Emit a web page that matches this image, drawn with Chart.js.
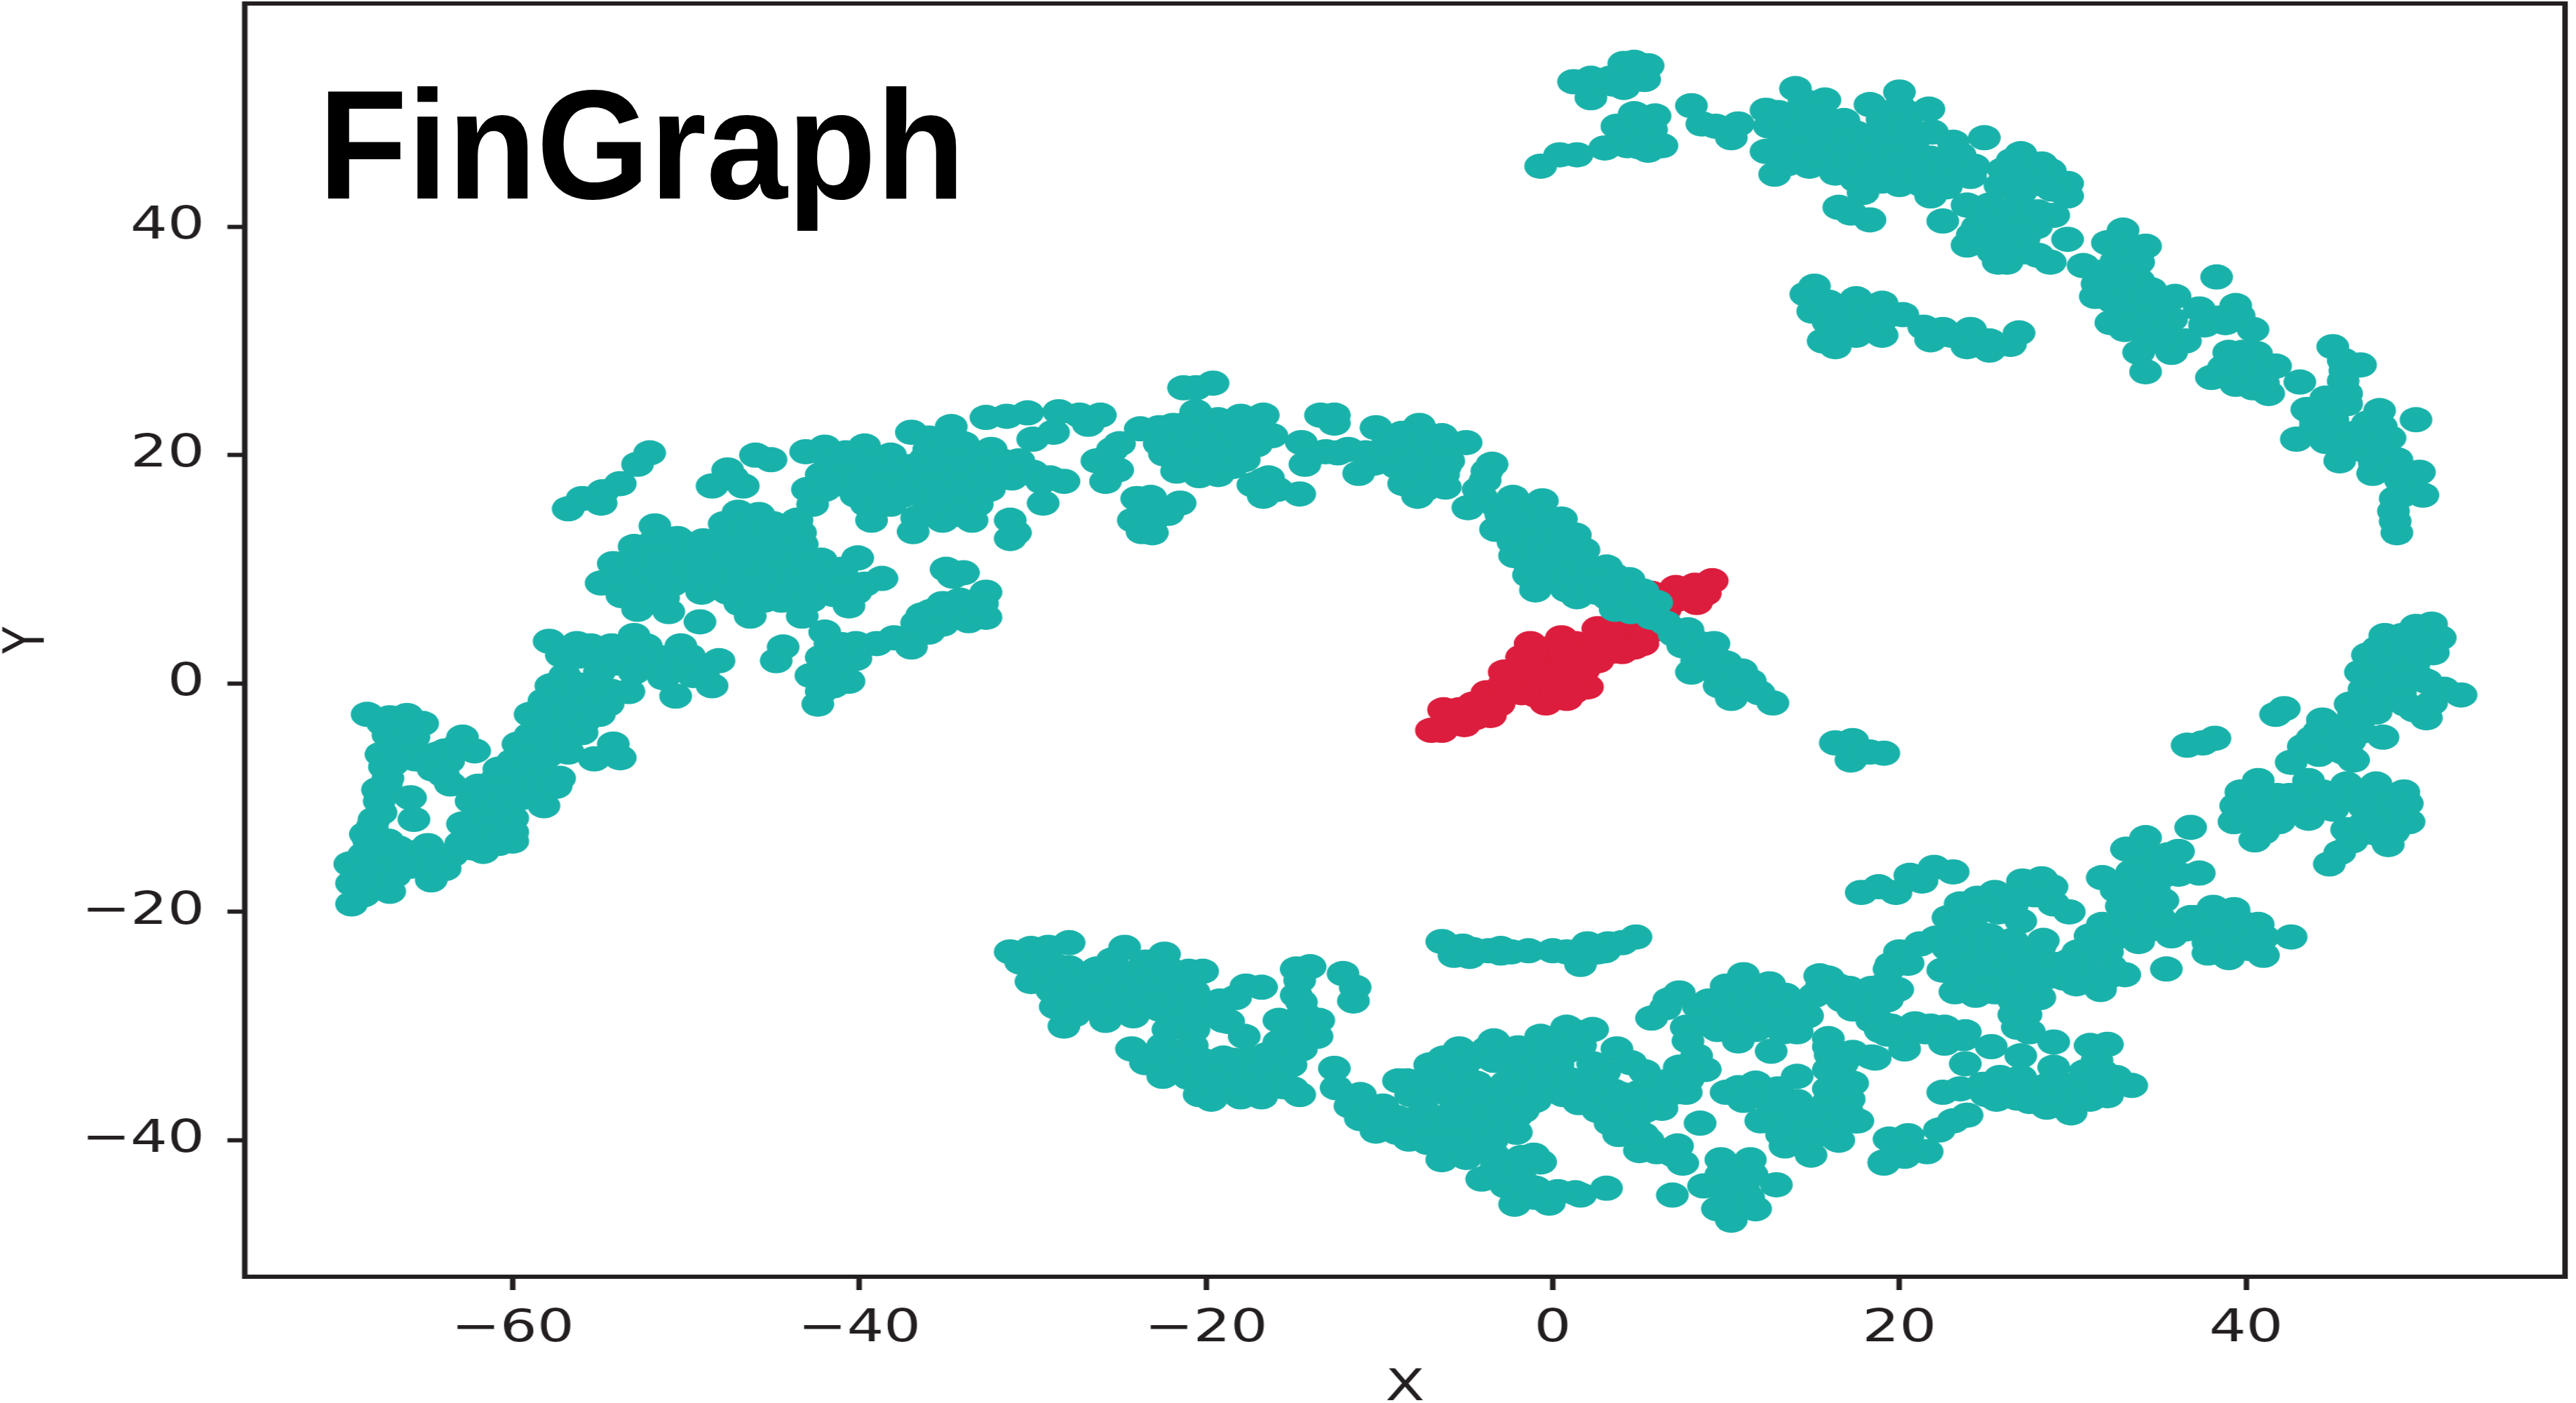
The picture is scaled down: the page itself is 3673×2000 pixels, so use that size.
<!DOCTYPE html>
<html lang="en">
<head>
  <meta charset="UTF-8" />
  <title>FinGraph</title>
  <script src="https://cdn.jsdelivr.net/npm/chart.js"></script>
  <style>
    html,body{margin:0;background:#fff;overflow:hidden}
    #wrap{position:absolute;left:0;top:0;width:2826px;height:2000px;transform:scale(1.2997,1);transform-origin:0 0}
    #mark{position:absolute;left:454px;top:97px;font:bold 220px/1 "Liberation Sans",Arial,sans-serif;color:#000;transform:scaleX(.943);transform-origin:0 0;white-space:nowrap}
  </style>
</head>
<body>
  <div id="wrap"><canvas id="tsne" width="2826" height="2000"></canvas></div>
  <div id="mark">FinGraph</div>

  <script>
  const xTicks=[-60,-40,-20,0,20,40];
  const yTicks=[-40,-20,0,20,40];

  // values, cluster by cluster
  const redCluster=[[9.2,9],[8.2,8.6],[7.1,8.4],[8.8,7.9],[8.3,7.1],[7.2,7.4],[5.7,7.9],[6.5,6.5],[5.6,4.6],[2.6,4.8],[4.2,4.6],[4.7,3.2],[4,2.8],[0.5,4],[-1.3,3.5],[1.3,3.5],[2.6,2],[1.8,2.6],[-1.8,2.3],[-2.8,1],[-0.5,2],[0.8,1.5],[2,-0.3],[0.8,-1.3],[-0.4,-1.7],[-0.5,0.2],[-1.8,-0.8],[-3.8,-0.8],[-3.1,-1.8],[-3.6,-2.8],[-4.6,-1.8],[-6.3,-2.3],[-5.1,-3.6],[-6.4,-4.1],[-7,-4.1],[-5.6,-3],[-1.8,0.7],[0,0.5],[1.3,0.2],[3.4,3.5],[5.2,3.5],[5.2,5],[3.4,4.5],[-0.5,3],[0.6,2.8],[2.6,3.5],[1.8,1.2],[-1,1.2],[-2.6,-0.5],[-1,-1],[0.2,-0.8],[1.2,-0.7],[-4.5,-3],[-5.4,-2.3],[-2.8,0],[3.3,2.8],[6.6,7.5],[5,6]];

  const leftTail=[[-68.4,-2.7],[-67.1,-3],[-66.1,-2.8],[-65.2,-3.5],[-67.2,-4.5],[-65.7,-4.7],[-66.5,-3.8],[-67.6,-6.2],[-66.4,-6.5],[-67.4,-7.3],[-67.2,-8.3],[-67.8,-9.3],[-67.6,-11.3],[-68.1,-12.5],[-68.3,-13.8],[-68.6,-15],[-69.4,-15.8],[-69.3,-17.5],[-69.3,-19.3],[-68.6,-18.5],[-67.1,-18.2],[-67.9,-16.7],[-67.2,-13.8],[-67.2,-15.7],[-65.9,-16],[-64.7,-17.2],[-63.9,-16.2],[-64.9,-14.2],[-65.9,-10],[-65.7,-11.9],[-64.4,-6.2],[-64.6,-7.5],[-63.6,-8.8],[-63.7,-6.8],[-62.9,-4.7],[-62.2,-5.9],[-66.5,-15],[-63.5,-15]];
  const leftTailFill=[[-68.2,-17],[-68,-15.8],[-66.8,-16.8],[-65.6,-14.8],[-64.6,-15.5],[-66.6,-14.4],[-67.8,-14.5],[-68.3,-16.2],[-66.7,-3.9],[-66.3,-5.5],[-67,-5.4],[-65.7,-3.8],[-67.5,-3.5],[-66.9,-7],[-65.6,-6.6],[-67.7,-10.3],[-67.3,-8.9],[-68,-11.9],[-68.5,-13.2],[-63.9,-5.9],[-64.9,-6.8],[-64,-8],[-63.2,-5.5]];
  const leftBand=[[-62.4,-10.3],[-62.9,-12.3],[-63,-14],[-61.7,-14.7],[-62.3,-14.4],[-60,-13.8],[-60,-11.8],[-61.4,-12.3],[-61.4,-10.7],[-60.9,-8.3],[-59.4,-8.3],[-57.3,-8.3],[-58.2,-10.7],[-58.7,-9.3],[-60,-9.8],[-61,-13.5],[-59.5,-6.5],[-59.7,-5.3],[-58,-6.3],[-57,-5.3],[-58.5,-5],[-56,-4.3],[-59,-2.7],[-57.3,-3],[-55,-2.7],[-56,-2],[-57.8,-0.2],[-57,0.7],[-56.7,-1],[-55.7,-0.7],[-54.3,-0.7],[-53.3,-0.7],[-55,1],[-54.2,-5.3],[-55.3,-6.6],[-53.8,-6.5],[-57.5,-4.2],[-59.5,-7.2],[-58.5,-8]];
  const leftBandFill=[[-62,-11.5],[-61,-11.5],[-60.5,-12.8],[-61.8,-13],[-62.6,-13.2],[-60.8,-14],[-60,-13],[-61.8,-9.5],[-60.5,-10.8],[-59.5,-10],[-60.5,-9],[-59.5,-7.5],[-58.7,-7],[-60,-6.8],[-59,-4.5],[-58.2,-4],[-57.2,-4.2],[-58,-3],[-56.5,-3.5],[-55.8,-3.2],[-57.8,-5.5],[-56.8,-2],[-58.2,-1.5],[-55,-1.7],[-56.3,-0.1],[-54.5,-1.8],[-56.8,-6],[-60.8,-7.5],[-62,-9],[-57.5,-9]];
  const leftRidge=[[-57.9,3.7],[-57.2,2.5],[-56.3,3.5],[-54.3,3.3],[-53,4.2],[-52.3,3.3],[-53.7,2.3],[-52.7,1.7],[-51.3,0.5],[-50.6,-1.1],[-50.3,3.3],[-50.1,1.9],[-49.6,0.7],[-48.5,-0.2],[-48.1,2],[-49,1.3],[-51.6,2.3],[-55.4,2.8],[-42,4.5],[-40.2,3.5],[-40.9,2.3],[-40.2,2.2],[-42.2,2.3],[-42.8,0.7],[-41.9,0.7],[-40.6,0.2],[-42.2,-0.7],[-42.4,-1.8],[-39,3.5],[-38,4],[-37,3.2],[-36.7,5.3],[-35.2,5.2],[-35.9,6.3],[-35.2,7],[-34.2,7.3],[-33.7,5.5],[-32.7,5.8],[-32.7,8],[-32.9,7],[-33.9,6.3],[-44.4,3.2],[-44.8,2],[-35,10],[-34,9.7],[-34.6,9.4]];
  const leftRidgeFill=[[-57,3],[-55.5,3.3],[-54.6,2.5],[-53.5,3.2],[-52,2.2],[-51.5,1.3],[-52.5,2.8],[-50.5,2.5],[-49.8,2.4],[-49,0.8],[-56.2,2.4],[-54,1.8],[-53,1],[-41,3.4],[-41.3,1.5],[-41.7,3.5],[-41.5,-0.2],[-41.2,2.8],[-36,4.5],[-36.4,6],[-34.8,6],[-34,6.3],[-33,6.7],[-35,6.5]];
  const leftBlob=[[-54.9,8.8],[-54.2,10.5],[-53,12],[-51.8,13.8],[-50.5,12.7],[-53.7,7.7],[-52.8,6.5],[-51,6.3],[-52.3,10.3],[-51,11.7],[-52.3,8.3],[-50.8,8.7],[-50.3,10.7],[-49.1,8],[-49.2,5.4],[-48.3,10.3],[-48.5,12.3],[-47,11.3],[-47.8,14],[-47,15],[-45.8,14.8],[-46.6,13.6],[-45.3,13],[-43.4,13.2],[-43.6,14.3],[-46.3,10.3],[-44.6,11],[-43.3,11.3],[-46.9,8],[-46.9,7],[-46.3,5.9],[-45,8.3],[-44.3,9.3],[-43.3,5.9],[-43.2,8.2],[-42.2,10.8],[-42.2,8],[-40.6,6.8],[-40.1,11],[-40.9,8.7],[-38.7,9.2],[-39.7,8.7],[-53,9.5],[-49.5,9.5],[-47.5,9],[-41.5,9]];
  const leftBlobFill=[[-53.6,9.3],[-52.7,11],[-51.8,12.5],[-51.5,11],[-51.6,9.5],[-51.8,7.5],[-53,8],[-51.3,7.5],[-50,11.5],[-49.2,11],[-49,12.5],[-47.8,12.5],[-46.8,12.5],[-45.5,12],[-44.2,12.5],[-43.3,12.2],[-44,13.8],[-45,14],[-48,10],[-49,9.5],[-47.5,10.5],[-46,11.5],[-45.2,10],[-44.5,9.5],[-43.5,10],[-42.8,9.5],[-47.9,8.5],[-46.5,9],[-45.5,9],[-44.2,8],[-41.8,9.5],[-41,10],[-41.5,7.8],[-40.2,8],[-42.8,7.3],[-46,7.8],[-45.5,7.3],[-44.5,7.3],[-48.5,9],[-47.6,8]];
  const leftUpper=[[-42.7,15.7],[-43,17],[-42.2,18.3],[-43.1,20.3],[-42,20.7],[-39.7,20.8],[-40.9,19],[-41.2,17.5],[-38.2,20],[-39.2,18.3],[-39.6,15.7],[-39.3,14.3],[-38.2,15.7],[-37.5,17.7],[-46,20],[-45.1,19.6],[-47.6,18.7],[-48.5,17.3],[-46.7,17.3],[-47.3,18],[-52.1,20.2],[-52.8,19.2],[-53.8,17.5],[-54.8,16.8],[-54.9,15.8],[-56,16.2],[-56.8,15.3],[-40.5,20],[-38.5,17.5],[-40.2,16.5],[-42,17],[-41.3,18.5],[-41.8,19.8],[-40.8,20.2],[-39.5,19.5],[-38.8,19.3],[-40,18],[-38.8,17],[-38,19],[-37,19],[-36.5,18.5],[-36,20.5],[-36.5,17.5],[-37.5,16.5]];
  const leftCrest=[[-34.7,22.5],[-37,22],[-35.5,20.7],[-36.2,19.7],[-34.4,20],[-32.4,20.5],[-32.9,19],[-30.8,19.5],[-34.2,17.7],[-35.5,18],[-32.5,17],[-31.2,18],[-33.2,15.7],[-33.5,14.3],[-35.5,15],[-35.2,14.3],[-36.9,13.3],[-36.7,14.5],[-34.5,16],[-29.4,15.8],[-29.5,17.7],[-28.2,17.7],[-31.3,14.3],[-31.3,12.7],[-31,13.2],[-32.7,23.3],[-31.5,23.4],[-30.3,23.7],[-28.5,23.8],[-27.3,23.5],[-26.1,23.5],[-26.8,22.7],[-28.8,22],[-30,21.4],[-23.8,22.3],[-25.8,19.7],[-26.3,19.5],[-25.8,17.7],[-25.1,18.7],[-24,16.2],[-24.2,14.3],[-23.7,13.3],[-25,21],[-36,17],[-33.5,18.5],[-36,21.5],[-35,21.5],[-34,21],[-33.2,20],[-33.5,19],[-34.5,19],[-35.5,19.5],[-32,19],[-33.5,17.5],[-34.8,17],[-36,15.8],[-35.5,16.5],[-33.8,15.5],[-34.2,14.8],[-32.8,18],[-31.8,19.5],[-30,18.5],[-29,18],[-25.4,20.5],[-21.5,15.8],[-22.7,15.2],[-23.2,16.3],[-23.2,14],[-23.1,13.2],[-22.2,14.9]];

  const archBlob=[[-19.6,26.3],[-21.3,25.9],[-20.6,25.9],[-20.6,23.8],[-16.7,23.5],[-18,23.4],[-19.3,23.1],[-21.9,22.6],[-22.7,22.4],[-16.2,21.7],[-21.9,21],[-20.6,21.9],[-19.3,21.6],[-18,21.9],[-17.1,20.9],[-20.6,20.3],[-19.1,20.3],[-22.4,20.1],[-21.7,18.6],[-20.4,18.2],[-19.3,18.3],[-17.8,19.6],[-21.4,19.5],[-22.7,21],[-18.5,19],[-16.4,18],[-17.3,17.4],[-16.7,16.4],[-15.9,17],[-14.6,16.6],[-13.4,23.5],[-12.6,22.8],[-12.6,23.5],[-14.5,21.1],[-14.3,19.2],[-13.1,20.3],[-11.8,20.5],[-13.9,20.1],[-11.2,18.4],[-10.2,22.4],[-10,20.3],[-7.7,22.6],[-8.7,21.9],[-6.4,21.7],[-5,21.1],[-7.7,20.9],[-9,20.1],[-6.7,20.1],[-7.7,19.1],[-6.3,18.3],[-6.2,17.2],[-8.6,17.5],[-7.8,16.4],[-7.2,17.8],[-10.3,19.3]];
  const archFill=[[-21,22.8],[-19.8,22.6],[-18.6,22.5],[-17.4,22.6],[-21.2,21.2],[-20,21],[-18.6,21],[-17.4,20.8],[-22,20],[-21,20],[-19.9,19.5],[-18.8,20],[-17.8,20.5],[-21,19],[-19.5,19.2],[-17,21.7],[-20,18.8],[-16.3,17.2],[-16.7,17.8],[-8.7,20.5],[-8,21.5],[-7,21.2],[-6,20.9],[-8.3,19.5],[-7,19.3],[-6,19.5],[-9,19],[-6.8,18.3],[-8,18],[-7.4,17],[-8.2,19],[-12.4,20.2],[-10.8,20.2],[-9.6,20.8],[-9.2,21.5],[-6.2,19]];
  const centerTail=[[-3.5,19.2],[-3.9,17.8],[-4.9,15.4],[-4.1,16.3],[-2.3,16.3],[-0.6,16],[-2.8,13.7],[-1.3,14.7],[0.5,14.4],[1.3,13],[1.8,11.7],[-2.2,11.2],[-2.3,12.4],[-0.5,13.2],[-0.5,11.7],[-1.3,10.2],[-0.2,10],[0.8,11.2],[-1,8.2],[0.8,8.2],[1.4,7.6],[3.1,10.2],[4.4,9.1],[2.6,9.1],[3.6,8.6],[5.2,8.1],[6,7.1],[3.6,6.5],[4.5,6.3],[4.2,7.4],[6.5,5.3],[7.8,4.7],[7.5,3.3],[9.3,3.5],[8.7,2.8],[8,1],[8.3,2],[10,1.8],[10.9,1.1],[11.4,0.2],[10.1,0.2],[10.3,-1.3],[12.7,-1.7],[11.9,-0.8],[9.6,-0.2],[-3,14.8],[1,9.8]];
  const centerFill=[[-1.5,15.2],[-2,15],[-0.8,14.6],[0,14],[-1,13.7],[-2,13.6],[-1.5,12.5],[-0.8,12.5],[0.5,13],[0.6,12],[1.2,11.7],[-1.5,11.3],[-1,10.8],[0,11],[-1.4,9.5],[-0.7,9.3],[3.5,9.5],[2,10],[1.7,9],[2.5,8],[3.2,7.5],[4.9,7.2],[5.3,6.5],[5.7,5.8],[7,4.3],[8.5,3.5],[8.8,2],[9.4,1],[9.9,1],[10.6,0.3],[9.2,2.5],[-3.2,15.5],[-2.5,15],[-3.8,18.6],[-4.3,17],[-3.3,13.5]];

  const topLeftBits=[[5.5,54.1],[4.7,54.4],[4.1,54.3],[1.2,52.7],[2.2,53],[3.3,53],[2.2,51.3],[4.1,52.2],[5.3,52.9],[4.7,49.9],[5.9,49.7],[3.7,48.8],[4.7,47.9],[6.3,47.1],[5.5,46.7],[4.3,47.1],[3,46.9],[5.7,48.5],[1.4,46.3],[0.4,46.3],[-0.7,45.3],[3.5,52.5],[4.5,53.3],[4.9,48.8],[4,48],[5,47],[1.9,52.5]];
  const topArc=[[8,50.6],[8.6,49],[10.3,47.8],[10.7,49],[9.4,48.8],[12.3,50.2],[14,52.1],[15.7,51.1],[12.5,48.8],[14,49.7],[15.6,49.7],[12.3,46.6],[12.8,44.6],[14,47.2],[14.8,48.5],[14.8,45.3],[15.9,46],[18.3,50.7],[20,51.8],[20.6,49.9],[21.7,50.3],[19,49.4],[21.9,48.3],[23.1,47.4],[24.9,47.8],[17.5,48.2],[19.6,47.2],[20.8,46.9],[17.5,46.3],[16.3,44.7],[18.7,45.7],[21.8,46],[19.8,44.7],[21,44.4],[23.5,46.3],[24.3,45.3],[24.1,44.4],[17.5,44.1],[17.9,43],[21.8,42.7],[22.5,44.4],[16.5,41.7],[18.3,40.6],[17.2,41.2],[27,46.4],[28.2,45.5],[28.7,44.9],[26,45],[27.2,44.4],[29.7,43.8],[29.7,42.7],[28,43.8],[25.8,43.6],[22.5,40.5],[23.9,41.9],[25.2,41.9],[26.8,41.9],[28.9,41],[27.6,40.3],[25.6,40.3],[23.9,38.4],[25.4,37.8],[26.2,36.9],[27.2,37.8],[29.7,38.9],[28.7,36.9],[26.4,38.8],[27.9,40],[24.5,40]];
  const topArcFill=[[13,50],[13.3,48],[13.2,46.5],[13.5,45.5],[14.5,51],[15,50.3],[16.3,48],[16,47],[15,47],[16.8,49.3],[17.3,47.3],[17.9,47.2],[18.5,46.7],[19.2,46],[20,46],[20.5,45.5],[22,45],[22.9,45.2],[17,45],[18.2,44.5],[19,44],[20,43.7],[22,44],[19,48.5],[20,50.5],[20.5,48.6],[23,44.7],[22.7,43.5],[21.3,43.7],[18,43.7],[27,43],[28,45],[28.3,44],[26.5,45.8],[28.8,43.3],[24.8,41],[25.2,40.8],[26.3,41],[27,40.8],[28,41.3],[24.2,39.3],[25.3,39],[26.2,39.8],[27.2,39],[24.6,38.6],[26.5,37.8],[25.7,36.9],[28,37.5]];
  const topArcEnd=[[32.9,39.7],[32,38.6],[34.2,38.3],[33.8,36.9],[30.6,36.6],[32.2,36.3],[33.8,35.3],[31.4,35],[31.3,33.9],[35.9,33.9],[34.7,33.4],[35.7,31.9],[32.2,31.6],[33.6,32.5],[34.2,30.6],[37.3,32.8],[37.6,31.4],[39.4,33.1],[40.4,31],[39.6,32.2],[38.3,35.6],[33.8,29],[35.7,29],[34.2,27.3],[36.5,30],[39,29],[40.6,28.9],[41.7,27.8],[38,26.8],[39.4,26.2],[41.3,25.4],[40.4,25.9],[40,27.5],[43.1,26.4],[45,29.5],[46.6,27.9],[45.6,28.3],[45.6,26.5],[45.8,25.4],[44.6,25],[43.5,24],[42.9,21.4],[47.7,23.9],[49.8,23.1],[45,23.1],[46.6,22.1],[45.4,19.5],[44.6,21.2],[48.3,21.5],[47,20.3],[48.7,19.6],[50,18.5],[47.3,18.4],[48.9,17.8],[50.2,16.5],[48.5,15.1],[48.7,13.2]];
  const topArcEndFill=[[32.8,38],[33.2,37.7],[32.5,37],[31.4,36],[32.6,35.3],[33,34.2],[32.3,33.5],[33.6,34],[34.5,34.5],[34.2,33],[35,32.8],[34.8,31.5],[33.7,31.3],[33,31],[32.8,33],[34.8,30],[35.2,30.2],[38.4,32],[38.8,31.6],[39,28.2],[40.2,28.2],[39.5,27.3],[41,27],[41,26.3],[38.7,27.7],[39.8,29],[45.7,27.4],[44.8,24.2],[45.8,24.5],[44.5,23.5],[44,22.5],[45.5,22],[47,22.8],[47.8,22.5],[46,21],[46.8,21.5],[45.5,20.5],[47.8,20.8],[47.4,19.3],[48.2,18.7],[48.7,18.8],[49.5,17.5],[49,16.5],[48.6,16.2],[48.6,14.2],[44,23]];
  const midBand=[[15.1,34.8],[14.6,34.1],[15,32.6],[15.9,33.4],[17.5,33.7],[19,33.3],[20.2,32.3],[15.6,30],[16.3,29.5],[15.9,31.6],[17.5,31.9],[17.5,30.5],[19,30.5],[19,31.9],[21.4,31.2],[22.5,31],[21.8,30.1],[24.1,31],[23.9,29.5],[25.2,29.2],[26.4,29.7],[26.9,30.7],[25.2,30],[16.5,33],[16.2,32],[16.9,31],[16.6,30.8],[18.2,32.7],[18.5,31.5],[19,32.3],[23,30.5]];

  const eastSmall=[[16.3,-5.2],[17.3,-5],[17.2,-6.7],[18.3,-6],[19.1,-6.1],[38.2,-4.8],[37.5,-5.2],[36.6,-5.4],[42.2,-2.2],[41.7,-2.7],[36.8,-12.6],[35.4,-25],[17.8,-18.3],[18.8,-17.8],[19.8,-18.3],[20.6,-16.8],[22,-16.1],[23.1,-16.5],[21.3,-17.3]];
  const eastHook=[[50.7,5.2],[49.8,5],[51.2,4],[48,4.2],[47,2.5],[50.8,2.7],[46.6,1],[48.9,3.2],[49.7,1.8],[48.6,1.2],[47.8,0.3],[50,0.5],[46.8,-0.5],[48.9,-0.8],[51.4,-0.5],[52.4,-1],[50.4,-3],[49.7,-2.3],[50.7,-1.7],[46,-1.8],[47.5,-2.5],[44.4,-3.2],[46.1,-3.2],[44.2,-4.2],[47.9,-4.7],[45,-4.8],[43.3,-5.5],[42.6,-6.9],[44.2,-6.2],[46.2,-6.7],[45.8,-5.8],[40.7,-8.5],[39.7,-9.5],[39.4,-10.7],[39.3,-12.1],[40.5,-13.7],[41.9,-12.1],[41.8,-9.8],[40.7,-10.8],[43.6,-11.8],[43.3,-10.2],[43.6,-8.5],[44.4,-9.5],[45.8,-10],[45.8,-8.8],[47.5,-8.8],[49.1,-9.5],[49.3,-10.5],[49.4,-12.1],[48.2,-14.1],[48.6,-12.5],[47.5,-11.2],[46.1,-13.8],[45.8,-12.8],[44.8,-15.8],[45.4,-14.8],[47.1,-13],[48.3,-10]];
  const eastHookFill=[[47.6,3.1],[48.5,2.5],[49.3,2.9],[50,3.2],[50,4],[49,4.2],[47.8,1.8],[47.6,0.6],[49,0],[50.4,0.2],[48,-1],[47,-1.8],[46.2,-2.5],[49.2,-1.8],[45.4,-3.8],[46.6,-4.2],[44.5,-5.3],[46,-5],[45.6,-6],[43.8,-4.8],[41,-9.8],[40,-11.5],[40.8,-12.5],[41,-13],[42.7,-11],[42.5,-9.8],[44.3,-10.6],[45,-11],[46.7,-9.8],[46.8,-10.8],[48.6,-11],[47.7,-12.5],[46.8,-12.3],[48.5,-13],[42.5,-10.8],[44.7,-9.8],[39.8,-11.2],[41.2,-11.4],[47.8,-13.3]];
  const eastMiddle=[[34.2,-13.5],[33.1,-14.5],[36.1,-14.7],[37.3,-16.6],[36.1,-16.7],[34.5,-15.2],[31.7,-17],[33.4,-16.5],[32.5,-18.1],[33.9,-17.8],[35.2,-19],[32.8,-19.5],[35,-20.5],[35.7,-22.1],[38.1,-19.6],[39.3,-20.1],[40.7,-21.1],[42.6,-22.2],[41,-23.8],[39,-24],[37.8,-23.6],[36.8,-20.5],[39.2,-21.8],[37.8,-21.8],[33.8,-22.6],[34.3,-21.6],[31.7,-21.1],[31,-22.1],[30.3,-23.5],[32.2,-22.5],[33,-25.5],[31.6,-26.8],[30.2,-26.3],[30.3,-24.8],[32.2,-24.8],[32.2,-21.8],[35,-15.6],[35.5,-15],[34,-16.5],[35,-17],[34.7,-18],[33.8,-18.9],[33.5,-20],[34.3,-19.7],[33,-21],[33.4,-19.5],[32,-23.5],[31.2,-24.3],[31.5,-25.5],[32,-25.7],[30.9,-23],[31.7,-22.5],[36.5,-21.5],[37.2,-20.5],[38.2,-20.8],[39.8,-21],[40,-22.7],[38.5,-22.8],[41,-22.2],[37.8,-22.7],[40.2,-23.2],[39.3,-19.8]];
  const eastLower=[[27.1,-17.3],[28.2,-17.1],[28.8,-17.8],[29.8,-20],[28.9,-19.3],[25.5,-18.3],[24.5,-18.8],[23.5,-19.3],[22.8,-20.5],[27,-20.8],[25.6,-19.5],[24.5,-21.8],[25.2,-22.1],[22.1,-22.3],[20,-23.5],[19.5,-24.6],[20.5,-24.5],[21.2,-22.8],[23.8,-24.1],[22.5,-25.1],[23.2,-27],[24.4,-27.3],[25.3,-24.1],[26.7,-24.5],[28.1,-23.1],[28.4,-24.5],[27.5,-25.8],[26.6,-27.8],[28.1,-27.5],[29.5,-25.8],[24.8,-25.8],[26.7,-26],[25.3,-26],[26.6,-29],[27.3,-29],[26.8,-30.1],[27.5,-30.5],[28.9,-31.4],[26.5,-22.5],[23.7,-22.8],[27,-18.5],[27.8,-18.5],[25.7,-20],[24.5,-20],[26.5,-19.5],[23.2,-21],[22.8,-22],[24,-23],[25,-23.2],[22.8,-23.2],[26,-23.5],[27,-23.2],[28.3,-22.5],[23.5,-25.5],[24,-25],[25.5,-25],[26.3,-25],[27.3,-24.5],[28.5,-25.7],[25.5,-27],[27.3,-27],[26.7,-26.8],[24.5,-26.5],[23.5,-26],[29.2,-24.6],[29.8,-24.3],[27.8,-26.8],[27.2,-28]];
  const eastRow=[[19.9,-26.8],[18.5,-26.8],[17.2,-27.1],[15.9,-25.8],[17.3,-28.5],[18.4,-29.5],[19.2,-30.1],[20.9,-29.8],[22.6,-30.1],[20.3,-32],[18.9,-30.4],[22.6,-31.5],[23.7,-31.1],[25.3,-31.8],[23.8,-33.3],[18.4,-32.7],[27,-32.6],[31,-31.7],[32,-31.6],[31.4,-33],[28.9,-33.6],[22.5,-35.8],[24.8,-35.1],[26.4,-35.1],[25.6,-36.4],[27.3,-35.8],[28.5,-37.1],[29.9,-37.6],[28.5,-35.2],[30.3,-35.1],[31,-36.4],[32,-36.1],[32.5,-34.5],[33.4,-35.2],[29.6,-36],[23.9,-37.8],[23.1,-38.3],[22.3,-39.1],[20.5,-39.6],[19.6,-40],[21.6,-41],[20.3,-41.4],[19.1,-42],[17,-36.6],[17.6,-38.3],[16.5,-40],[15.9,-35.5],[15.9,-31.1],[17.3,-32.3],[16.7,-33.3],[15.9,-33.8],[19.5,-30],[20.5,-30.8],[21.8,-30],[21.5,-30.5],[22.8,-30.9],[23.8,-30.5],[25,-36],[26.8,-36.3],[27.5,-36.6],[28.7,-36],[30.5,-36],[31.3,-35.3],[31.7,-35],[29,-34.8],[27,-34.5],[23.5,-35.5],[25.8,-34.5],[30.7,-34],[31.7,-34],[17.3,-35],[17,-37.5],[16,-37],[15.9,-38.6],[16,-32.5]];

  const southWest=[[-31.3,-23.5],[-30.1,-23.2],[-29.1,-23.1],[-27.9,-22.7],[-30.7,-24.4],[-30.1,-26.1],[-27.9,-24.9],[-24.7,-23.1],[-22.4,-23.7],[-25.4,-24.2],[-23.5,-24.4],[-27.6,-25.6],[-28.9,-26.9],[-28.7,-28.3],[-28.2,-30],[-25.8,-29.5],[-26.2,-26.6],[-23.9,-26.1],[-24.2,-29.1],[-26.9,-28.1],[-24.9,-27.9],[-22.9,-27.3],[-21.5,-27.7],[-20.2,-25.2],[-21,-25.2],[-20,-28.1],[-18.3,-27.5],[-16.8,-26.6],[-14.8,-25],[-14,-24.8],[-14.8,-27.3],[-14.6,-26],[-12.1,-25.4],[-11.4,-26.6],[-11.5,-27.8],[-14.5,-27.9],[-13.5,-29.5],[-15.8,-29.5],[-13.6,-30.9],[-15.8,-31.4],[-18.7,-29.6],[-17.8,-30.9],[-20.7,-30.3],[-22.2,-30.3],[-24.3,-32],[-22.5,-31.7],[-20.8,-31.7],[-23.5,-33.2],[-21.2,-33],[-19.5,-33.6],[-22.5,-34.4],[-17.5,-32.8],[-15.5,-32.6],[-15.1,-33.4],[-18.8,-34.6],[-19.8,-35.4],[-19.7,-36.4],[-20.4,-36],[-18,-36.2],[-16.8,-36.2],[-14.6,-36],[-15.6,-35.3],[-17.5,-35],[-26,-25],[-28,-27],[-24,-25.5],[-22.5,-26],[-19,-29.5]];
  const southWestFill=[[-29.8,-24.8],[-28.7,-24.7],[-29,-25.8],[-27.3,-26.7],[-27.5,-27.8],[-26.3,-27.5],[-26,-28.4],[-25,-25.2],[-25,-26.3],[-24,-27],[-23.2,-25.2],[-22.3,-24.8],[-23.3,-28.2],[-22.7,-28.5],[-21.8,-28.8],[-21.3,-29.2],[-27.6,-29],[-25,-28.7],[-28.3,-25.8],[-26.3,-25],[-21.9,-26],[-20.7,-27],[-19.2,-27.8],[-17.7,-26.5],[-14.4,-28.8],[-14.1,-30.2],[-14.7,-31],[-15,-30],[-14.5,-32],[-22.7,-33],[-21.9,-32.4],[-21.9,-33.8],[-21,-34.5],[-20,-34.5],[-20.2,-33],[-22.8,-32.5],[-20.7,-29.5],[-19,-32.8],[-18.4,-33],[-18.2,-33.8],[-17,-33.8],[-16.5,-33.6],[-16.2,-34.7],[-19.2,-35.7],[-18,-35.2],[-16.8,-35.2],[-15,-35.5],[-16.5,-32.5],[-19.5,-29]];
  const southMiddle=[[-12.6,-33.7],[-12.5,-35.4],[-11.1,-36],[-9.8,-37],[-11.1,-38.1],[-9,-39.3],[-8.3,-39.9],[-7.4,-37.6],[-6.4,-41.7],[-6.1,-39.5],[-5.1,-40.1],[-4.1,-37.4],[-2.1,-39.3],[-2.1,-37.9],[-5.7,-36.4],[-8.4,-34.8],[-8.9,-34.8],[-7.1,-33.4],[-5.4,-32],[-3.4,-31.3],[-0.7,-30.9],[0.8,-30.1],[2.3,-30.3],[-4.4,-35],[-4.7,-32.8],[-2,-33.6],[0.3,-33.4],[1.6,-31.7],[-0.7,-32.6],[-2,-31.9],[3.7,-32],[4.5,-33.2],[2.8,-34.8],[3,-34],[-0.7,-35.4],[0.6,-36],[-1.7,-37.4],[-2.2,-35.5],[5.3,-34],[7.3,-33.6],[8.8,-33.8],[8.3,-32.6],[7,-35.8],[7.7,-35.8],[5,-35.8],[3.5,-35.7],[2,-36.6],[6.3,-37.2],[3.3,-38.5],[2.6,-37.4],[5.3,-37.4],[5.2,-39.5],[5,-40.9],[7.2,-40.5],[7.5,-42],[8.5,-38.5],[6.9,-44.8],[-6.8,-38],[-7,-35.5],[-3.5,-36]];
  const southMiddleFill=[[-11.7,-37],[-10.5,-37.3],[-10,-38.3],[-10.2,-39.2],[-9,-38],[-8.2,-38.2],[-7.6,-39],[-7.2,-40.2],[-6.6,-40.5],[-6,-38],[-5.5,-37],[-4.8,-38.5],[-4,-39],[-3.2,-38.7],[-8.2,-36],[-7.5,-36.5],[-7.8,-35],[-6.5,-34],[-6.3,-32.8],[-5.2,-33.6],[-3.8,-32],[-3.4,-33],[-5.5,-35.2],[-4,-35.8],[-3.2,-36.8],[-2.7,-35],[-1.2,-34],[-0.4,-34.5],[-0.3,-31.5],[0.5,-31],[1.3,-30.5],[0.8,-32.2],[1,-34.7],[2,-35],[1.5,-36.7],[2.3,-33.3],[-1,-36.5],[-3,-37.5],[4.5,-36.6],[4,-37],[4,-36],[4.7,-38.4],[3.8,-39.5],[6,-36],[6.7,-34.8],[7.8,-34.7],[5.5,-40],[6,-41],[7,-41.3],[-4.5,-41],[-3.5,-40],[-5,-41.5]];
  const southBottom=[[-1.1,-41.3],[-3.4,-41.3],[-4.1,-43.4],[-2.7,-44],[-0.7,-41.9],[-2.2,-45.6],[-0.2,-45.5],[1.6,-44.8],[3.1,-44.2],[1.3,-44.6],[-1,-44.2],[-2.4,-42.5],[9.7,-41.7],[11.4,-41.7],[10.7,-42.7],[8.7,-44],[12.9,-43.9],[11,-44.2],[10.4,-45.6],[9.5,-46],[11.7,-46],[10.3,-47],[-2.5,-43.2],[-1.8,-43.5],[-3.3,-42.5],[-1.8,-41.5],[-2,-44.8],[-1,-45],[0.3,-44.5],[9.7,-43],[10,-44],[11.5,-43],[11.3,-45],[10,-45]];
  const southEast=[[5.7,-29.3],[7.3,-27.1],[6.5,-28.4],[8.4,-28.3],[10.2,-27.5],[11,-25.5],[12.5,-26.3],[15.4,-25.6],[10.7,-28.5],[13.4,-27.3],[15.1,-27.3],[17.1,-26.7],[18.4,-26.7],[19.4,-25],[14.7,-29.1],[14.1,-30.5],[9.5,-30.3],[10.7,-31.3],[11.7,-30.3],[7.7,-30.1],[7.8,-31.3],[12.6,-32.2],[15.9,-31.8],[17.1,-32.6],[18.6,-32.8],[16.1,-33.8],[14.1,-34.4],[10.7,-35.4],[10,-35.8],[11.7,-35],[12.4,-36.4],[14.1,-36.6],[12,-38.3],[17.1,-36.4],[15.9,-36.6],[17.4,-38.3],[16.4,-39.9],[13.4,-40.5],[14.9,-41.3],[14.1,-38.7],[15.4,-38.7],[13.2,-39.5],[19.4,-39.9],[19.1,-41.9],[16.7,-27.7],[18.1,-28.5],[18.9,-29.7],[19.3,-30.7],[12.5,-28.8]];
  const southEastFill=[[6.7,-27.7],[9,-27.8],[10,-26.5],[11,-26.8],[12,-27.5],[11.3,-28.5],[9.7,-29],[13.5,-28.2],[14.2,-28],[13,-29.5],[13.3,-30.5],[15.5,-26.5],[16.5,-26.5],[12,-29],[8.8,-29.8],[10.2,-30],[11.3,-35.9],[13,-35.5],[12.9,-37.5],[13.3,-38],[15.2,-37.5],[14.7,-40],[15,-39.7],[16.6,-37.5],[13.8,-37.2],[11,-36.5],[13,-37],[17.3,-27.3],[18,-27.5],[19,-26.5],[19.3,-27.7]];
  const southStrip=[[-6.4,-22.6],[-5.2,-23],[-5.7,-23.8],[-3.7,-23.4],[-2.4,-23.5],[-1.4,-23.4],[0,-23.4],[1.6,-24.6],[2,-22.8],[3.2,-22.8],[4.8,-22.2],[3,-23.4],[-4.6,-23.3],[-3,-23.6],[0.8,-23.5],[1.6,-23.6],[2.6,-23.5],[4,-22.7],[-4.8,-23.9],[-3,-23.2]];

  const tealPoints=[leftTail,leftTailFill,leftBand,leftBandFill,leftRidge,leftRidgeFill,leftBlob,leftBlobFill,leftUpper,leftCrest,archBlob,archFill,centerTail,centerFill,topLeftBits,topArc,topArcFill,topArcEnd,topArcEndFill,midBand,eastSmall,eastHook,eastHookFill,eastMiddle,eastLower,eastRow,southWest,southWestFill,southMiddle,southMiddleFill,southBottom,southEast,southEastFill,southStrip].flat();

  const axisColor='#231f20';
  const tickFont={family:'"DejaVu Sans"',size:64};
  const minusLabel=v=>String(v).replace('-','\u2212');
  const noPadding=s=>{s.paddingLeft=s.paddingRight=s.paddingTop=s.paddingBottom=0};

  const boxPlugin={
    id:'box',
    afterDraw(chart){
      const {ctx,chartArea:a}=chart;
      ctx.save();
      ctx.strokeStyle=axisColor;
      ctx.lineWidth=6;
      ctx.strokeRect(a.left,a.top,a.right-a.left,a.bottom-a.top);
      ctx.restore();
    }
  };

  new Chart(document.getElementById('tsne'),{
    type:'scatter',
    data:{
      datasets:[
        {label:'teal',data:tealPoints.map(p=>({x:p[0],y:p[1]})),backgroundColor:'#19b2aa',pointRadius:18,pointBorderWidth:0},
        {label:'red',data:redCluster.map(p=>({x:p[0],y:p[1]})),backgroundColor:'#dd1d3d',pointRadius:18,pointBorderWidth:0}
      ]
    },
    options:{
      responsive:false,
      animation:false,
      devicePixelRatio:1,
      layout:{autoPadding:false,padding:{top:5,right:12}},
      plugins:{legend:{display:false},tooltip:{enabled:false}},
      scales:{
        x:{
          type:'linear',min:-75.46,max:58.4,
          afterBuildTicks:s=>{s.ticks=xTicks.map(v=>({value:v}))},
          afterFit:s=>{s.height=180;noPadding(s)},
          grid:{drawOnChartArea:false,tickLength:19,tickWidth:6,tickColor:axisColor},
          border:{display:false},
          ticks:{color:axisColor,font:tickFont,padding:18,maxRotation:0,callback:minusLabel},
          title:{display:true,text:'X',color:axisColor,font:{family:'"DejaVu Sans"',size:63,lineHeight:.65},padding:0}
        },
        y:{
          type:'linear',min:-51.95,max:59.55,
          afterBuildTicks:s=>{s.ticks=yTicks.map(v=>({value:v}))},
          afterFit:s=>{s.width=268.5;noPadding(s)},
          grid:{drawOnChartArea:false,tickLength:19,tickWidth:6,tickColor:axisColor},
          border:{display:false},
          ticks:{color:axisColor,font:tickFont,padding:25,callback:minusLabel},
          title:{display:true,text:'Y',color:axisColor,font:{family:'"DejaVu Sans"',size:63,lineHeight:1},padding:0}
        }
      }
    },
    plugins:[boxPlugin]
  });
  </script>
</body>
</html>
